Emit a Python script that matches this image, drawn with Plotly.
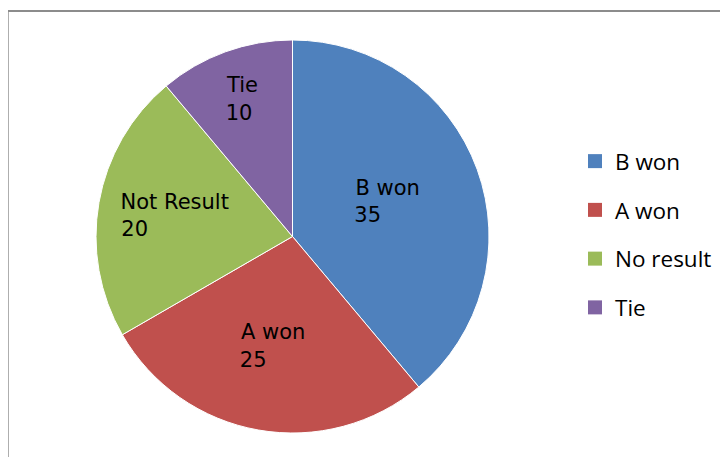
import plotly.graph_objects as go

# Data
categories = ["B won", "A won", "No result", "Tie"]
slice_labels = ["B won", "A won", "Not Result", "Tie"]
values = [35, 25, 20, 10]
colors = ["#4F81BD", "#C0504D", "#9BBB59", "#8064A2"]

# The page body adds an 8px margin; the figure is sized so it fills the window
OFF = 8
W, H = 728 - OFF, 457 - OFF

def px(x):
    return (x - OFF) / W

def py(y):
    return 1 - (y - OFF) / H

# Approximate left alignment of the two-line slice labels by padding the value line
char_w = {"B": .686, " ": .318, "w": .818, "o": .612, "n": .634, "A": .684, "N": .748,
          "t": .392, "R": .695, "e": .615, "s": .521, "u": .634, "l": .278, "T": .611,
          "i": .278, "0": .636, "1": .636, "2": .636, "3": .636, "5": .636}
nbsp_w = .318

def padded(lbl, val):
    wl = sum(char_w.get(c, .6) for c in lbl)
    wv = sum(char_w.get(c, .6) for c in str(val))
    n = max(0, round((wl - wv) / nbsp_w))
    return f"{lbl}<br>{val}" + "&nbsp;" * n

texts = [padded(l, v) for l, v in zip(slice_labels, values)]

fig = go.Figure()
fig.add_trace(go.Pie(
    labels=categories,
    values=values,
    text=texts,
    texttemplate="%{text}",
    textposition="inside",
    insidetextorientation="horizontal",
    textfont=dict(family="DejaVu Sans", size=21, color="#000000"),
    marker=dict(colors=colors, line=dict(color="#FFFFFF", width=1)),
    sort=False,
    direction="clockwise",
    rotation=0,
    showlegend=False,
    hoverinfo="label+value",
    domain=dict(x=[px(96), px(489)], y=[py(433), py(40)]),
))

# Legend entries (square swatches)
for i, (c, col) in enumerate(zip(categories, colors)):
    fig.add_trace(go.Scatter(
        x=[None], y=[None], mode="markers", name=c,
        marker=dict(symbol="square", size=14, color=col),
        legendgroup=f"g{i}", showlegend=True,
    ))

fig.update_layout(
    width=W, height=H,
    margin=dict(l=0, r=0, t=0, b=0),
    paper_bgcolor="#FFFFFF",
    plot_bgcolor="#FFFFFF",
    xaxis=dict(visible=False),
    yaxis=dict(visible=False),
    showlegend=True,
    legend=dict(
        x=px(575), y=py(140), xanchor="left", yanchor="top",
        font=dict(family="Open Sans", size=22.5, color="#000000"),
        traceorder="grouped", tracegroupgap=16.5,
        itemwidth=30,
        bgcolor="rgba(0,0,0,0)",
    ),
    shapes=[dict(
        type="rect", xref="paper", yref="paper",
        x0=px(7.7), x1=1.05, y0=-0.05, y1=py(11),
        line=dict(color="#8C8C8C", width=2),
        fillcolor="rgba(0,0,0,0)", layer="below",
    )],
)

fig.write_html("out.html")
